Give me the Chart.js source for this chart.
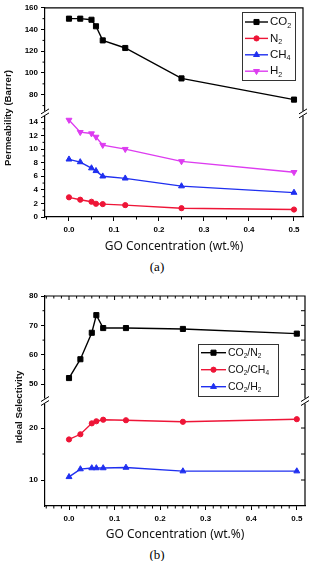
<!DOCTYPE html>
<html>
<head>
<meta charset="utf-8">
<script src="https://cdn.jsdelivr.net/npm/chart.js@4.4.1/dist/chart.umd.min.js"></script>
<style>
  body { margin: 0; background: #fff; width: 314px; height: 561px; position: relative; overflow: hidden; }
  canvas { position: absolute; left: 0; }
  .cap { position: absolute; left: 0; width: 314px; text-align: center; font-family: "Liberation Serif", serif; font-size: 13px; color: #000; }
</style>
</head>
<body>
<canvas id="perm" width="314" height="258" style="top:0"></canvas>
<div class="cap" style="top:259px">(a)</div>
<canvas id="sel" width="314" height="256" style="top:286px"></canvas>
<div class="cap" style="top:547px">(b)</div>
<script>
// GO loading (wt.%)
const goConc = [0, 0.025, 0.05, 0.06, 0.075, 0.125, 0.25, 0.5];

// (a) permeability, Barrer
const permCO2 = [150, 150, 149, 143, 130, 123, 95, 75.5];
const permN2  = [2.9, 2.55, 2.25, 1.95, 1.9, 1.75, 1.3, 1.1];
const permCH4 = [8.5, 8.1, 7.2, 6.8, 6.0, 5.7, 4.55, 3.6];
const permH2  = [14.3, 12.5, 12.3, 11.8, 10.6, 10.0, 8.2, 6.6];

// (b) ideal selectivity
const selCO2N2  = [52.1, 58.5, 67.5, 73.5, 69.1, 69.1, 68.8, 67.2];
const selCO2CH4 = [17.8, 18.8, 20.9, 21.3, 21.6, 21.5, 21.2, 21.7];
const selCO2H2  = [10.6, 12.1, 12.3, 12.3, 12.3, 12.4, 11.7, 11.7];

// tick labels
const xTicks       = [0, 0.1, 0.2, 0.3, 0.4, 0.5];
const permTopTicks = [80, 100, 120, 140, 160];
const permLowTicks = [0, 2, 4, 6, 8, 10, 12, 14];
const selTopTicks  = [50, 60, 70, 80];
const selLowTicks  = [10, 20];

const BLACK = '#000000', RED = '#ee1537', BLUE = '#1f2ff0', MAGENTA = '#dd3cf0';
const tickFont = { family: 'Liberation Sans', size: 8, weight: 'bold' };

const pts = ys => goConc.map((x, i) => ({ x: x, y: ys[i] }));

function series(label, ys, color, style, axis, radius, rot) {
  return {
    label: label, data: pts(ys), yAxisID: axis,
    borderColor: color, backgroundColor: color,
    borderWidth: 1.4, pointStyle: style, pointRadius: radius,
    pointRotation: rot || 0, pointBorderWidth: 1, tension: 0
  };
}

function fixedTicks(vals) {
  return s => { s.ticks = vals.map(v => ({ value: v })); };
}

function xAxis(min, max, h, titlePad) {
  return {
    type: 'linear', min: min, max: max,
    afterBuildTicks: fixedTicks(xTicks),
    afterFit: s => { s.height = h; },
    grid: { drawOnChartArea: false, tickLength: 4, color: BLACK },
    border: { color: BLACK, width: 1.2 },
    ticks: { font: tickFont, color: BLACK, padding: 4, maxRotation: 0, autoSkip: false,
             callback: v => v.toFixed(1) },
    title: { display: true, text: 'GO Concentration (wt.%)', color: '#111',
             font: { family: 'Noto Sans', size: 12 }, padding: { top: 0, bottom: titlePad } }
  };
}

function yAxis(min, max, vals, order, sw) {
  return {
    type: 'linear', position: 'left', stack: 'y', stackWeight: sw, weight: order,
    min: min, max: max,
    afterBuildTicks: fixedTicks(vals),
    afterFit: s => { s.width = 45; },
    grid: { drawOnChartArea: false, tickLength: 4, color: BLACK },
    border: { color: BLACK, width: 1.2 },
    ticks: { font: tickFont, color: BLACK, padding: 3, autoSkip: false }
  };
}

function steps(from, to, step, skip) {
  const out = [];
  for (let v = from; v <= to + 1e-9; v += step) {
    if (!skip.some(k => Math.abs(k - v) < 1e-6)) out.push(v);
  }
  return out;
}

function drawChem(ctx, text, x, y, size) {
  let cx = x;
  for (const part of text.match(/\d+|\D+/g)) {
    const sub = /^\d/.test(part);
    ctx.font = (sub ? size * 0.62 : size) + 'px "Liberation Sans"';
    ctx.fillText(part, cx, sub ? y + size * 0.32 : y);
    cx += ctx.measureText(part).width;
  }
}

// frame, break marks, minor ticks, legend and y title
const decor = {
  id: 'decor',
  afterDraw(chart, args, o) {
    const { ctx, chartArea: a, scales } = chart;
    const up = scales.yTop, lo = scales.yLow, x = scales.x;
    ctx.save();
    ctx.strokeStyle = BLACK;
    ctx.lineWidth = 1.2;
    ctx.beginPath();
    ctx.moveTo(a.left, a.top); ctx.lineTo(a.right, a.top); ctx.lineTo(a.right, a.bottom);
    ctx.stroke();

    ctx.lineWidth = 1;
    ctx.beginPath();
    for (const v of o.xMinor) {
      const px = x.getPixelForValue(v);
      ctx.moveTo(px, a.bottom); ctx.lineTo(px, a.bottom + 2.5);
      if (o.mirror) { ctx.moveTo(px, a.top); ctx.lineTo(px, a.top + 2.5); }
    }
    for (const [sc, vals] of [[up, o.topMinor], [lo, o.lowMinor]]) {
      for (const v of vals) {
        const py = sc.getPixelForValue(v);
        ctx.moveTo(a.left, py); ctx.lineTo(a.left - 2.5, py);
      }
    }
    if (o.mirror) {
      for (const v of xTicks) {
        const px = x.getPixelForValue(v);
        ctx.moveTo(px, a.top); ctx.lineTo(px, a.top + 4);
      }
      for (const [sc, vals] of [[up, o.rightTop], [lo, o.rightLow]]) {
        for (const v of vals) {
          const py = sc.getPixelForValue(v);
          ctx.moveTo(a.right, py); ctx.lineTo(a.right - 4, py);
        }
      }
    }
    ctx.stroke();

    // axis break
    const yb = up.bottom;
    ctx.lineWidth = 1;
    for (const bx of [a.left, a.right]) {
      ctx.fillStyle = '#fff';
      ctx.fillRect(bx - 2, yb - 2.5, 4, 5);
      ctx.beginPath();
      for (const d of [-2, 2]) {
        ctx.moveTo(bx - 4, yb + d + 2.5);
        ctx.lineTo(bx + 4, yb + d - 2.5);
      }
      ctx.stroke();
    }

    // legend
    const L = o.legend;
    ctx.strokeStyle = '#333';
    ctx.strokeRect(L.x + 0.5, L.y + 0.5, L.w, L.h);
    ctx.textBaseline = 'middle';
    ctx.textAlign = 'left';
    chart.data.datasets.forEach((ds, i) => {
      const ry = L.row0 + i * L.step;
      ctx.strokeStyle = ds.borderColor;
      ctx.fillStyle = ds.borderColor;
      ctx.lineWidth = 1.4;
      ctx.beginPath();
      ctx.moveTo(L.x + 3, ry); ctx.lineTo(L.x + 3 + L.line, ry);
      ctx.stroke();
      ctx.lineWidth = 1;
      Chart.helpers.drawPoint(ctx, { pointStyle: ds.pointStyle, rotation: ds.pointRotation,
        radius: ds.pointRadius, borderWidth: 1 }, L.x + 3 + L.line / 2, ry);
      ctx.fillStyle = '#111';
      drawChem(ctx, ds.label, L.x + 5 + L.line, ry, L.font);
    });

    // y title
    ctx.save();
    ctx.translate(o.yTitle.x, o.yTitle.y);
    ctx.rotate(-Math.PI / 2);
    ctx.textAlign = 'center';
    ctx.fillStyle = '#111';
    ctx.font = 'bold 9.7px "Liberation Sans"';
    ctx.fillText(o.yTitle.text, 0, 0);
    ctx.restore();
    ctx.restore();
  }
};

new Chart(document.getElementById('perm'), {
  type: 'line',
  data: {
    datasets: [
      series('CO2', permCO2, BLACK, 'rect', 'yTop', 3.6),
      series('N2', permN2, RED, 'circle', 'yLow', 2.6),
      series('CH4', permCH4, BLUE, 'triangle', 'yLow', 3.4),
      series('H2', permH2, MAGENTA, 'triangle', 'yLow', 3.4, 180)
    ]
  },
  options: {
    responsive: false, animation: false,
    layout: { padding: { top: 7, right: 11, left: 0, bottom: 0 } },
    plugins: {
      legend: { display: false }, tooltip: { enabled: false },
      decor: {
        xMinor: steps(-0.05, 0.5, 0.05, xTicks),
        topMinor: [70, 90, 110, 130, 150],
        lowMinor: [1, 3, 5, 7, 9, 11, 13],
        mirror: false,
        legend: { x: 242, y: 12, w: 53, h: 68, row0: 22, step: 16.4, line: 23, font: 11.5 },
        yTitle: { x: 8, y: 118, text: 'Permeability (Barrer)' }
      }
    },
    scales: {
      x: xAxis(-0.0533, 0.52, 41, 4),
      yLow: yAxis(0, 15.27, permLowTicks, 0, 104),
      yTop: yAxis(62.8, 160, permTopTicks, 1, 106)
    }
  },
  plugins: [decor]
});

new Chart(document.getElementById('sel'), {
  type: 'line',
  data: {
    datasets: [
      series('CO2/N2', selCO2N2, BLACK, 'rect', 'yTop', 3.6),
      series('CO2/CH4', selCO2CH4, RED, 'circle', 'yLow', 2.6),
      series('CO2/H2', selCO2H2, BLUE, 'triangle', 'yLow', 3.4)
    ]
  },
  options: {
    responsive: false, animation: false,
    layout: { padding: { top: 10, right: 9, left: 0, bottom: 0 } },
    plugins: {
      legend: { display: false }, tooltip: { enabled: false },
      decor: {
        xMinor: steps(-0.05, 0.5, 0.1 / 6, xTicks),
        topMinor: [55, 65, 75],
        lowMinor: [15],
        mirror: true,
        rightTop: [50, 55, 60, 65, 70, 75],
        rightLow: [10, 15, 20],
        legend: { x: 198, y: 58, w: 80, h: 52, row0: 66.7, step: 17, line: 25, font: 10.5 },
        yTitle: { x: 19, y: 121, text: 'Ideal Selectivity' }
      }
    },
    scales: {
      x: xAxis(-0.0527, 0.518, 36, 0.5),
      yLow: yAxis(5, 25.2, selLowTicks, 0, 105),
      yTop: yAxis(44.3, 80, selTopTicks, 1, 105)
    }
  },
  plugins: [decor]
});
</script>
</body>
</html>
